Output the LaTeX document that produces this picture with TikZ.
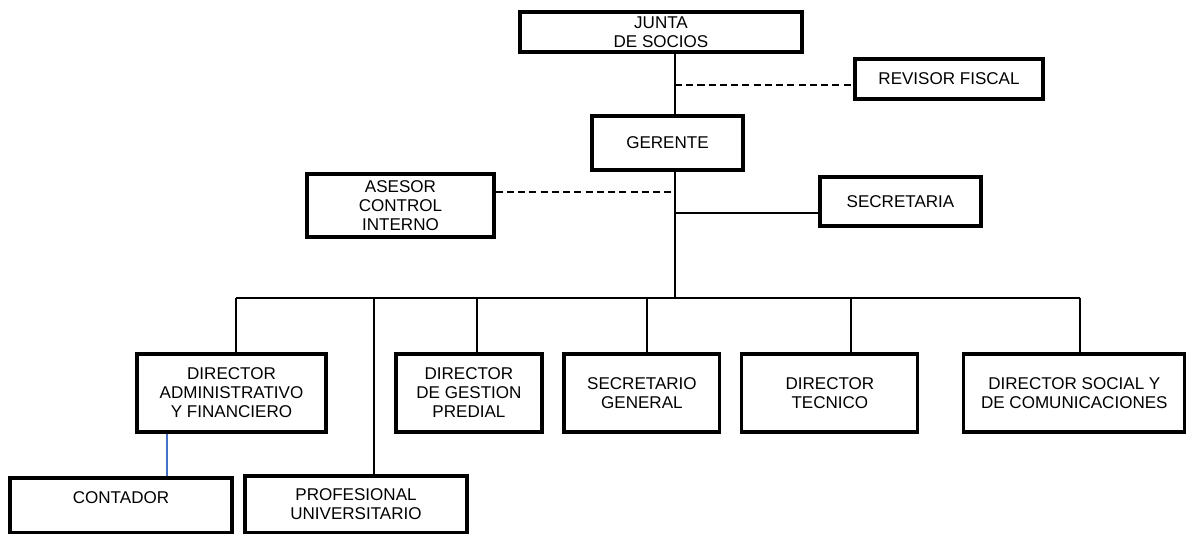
\documentclass[tikz,border=0pt]{standalone}
\usepackage{fontspec}
\setmainfont{Liberation Sans}
\usepackage{tikz}
\usetikzlibrary{positioning}

\definecolor{azul}{RGB}{68,114,196}

\tikzset{
	cargo/.style={rectangle, draw=black, line width=1.8pt, align=center, inner sep=2pt,
		font=\fontsize{9.7pt}{10.8pt}\selectfont},
	linea/.style={line width=0.6pt},
	punteada/.style={line width=0.6pt, dash pattern=on 4pt off 2.4pt}
}

\begin{document}
\begin{tikzpicture}[x=0.02cm, y=-0.02cm]
	\useasboundingbox (0,0) rectangle (1188,534);

	\node[cargo, minimum width=5.64cm, minimum height=0.8cm] (jun) at (661,32) {JUNTA\\DE SOCIOS};
	\node[cargo, minimum width=3.76cm, minimum height=0.8cm] (rev) at (949,79) {REVISOR FISCAL};
	\node[cargo, minimum width=3.02cm, minimum height=1.08cm] (ger) at (667.5,143) {GERENTE};
	\node[cargo, minimum width=3.74cm, minimum height=1.26cm] (ase) at (400.5,205.5) {ASESOR\\CONTROL\\INTERNO};
	\node[cargo, minimum width=3.22cm, minimum height=0.98cm] (sec) at (900.5,201.5) {SECRETARIA};

	\node[cargo, minimum width=3.78cm, minimum height=1.56cm] (adm) at (231.5,393) {DIRECTOR\\ADMINISTRATIVO\\Y FINANCIERO};
	\node[right of=adm, node distance=4.75cm, cargo, minimum width=2.92cm, minimum height=1.56cm] (ges) {DIRECTOR\\DE GESTION\\PREDIAL};
	\node[right of=ges, node distance=3.46cm, cargo, minimum width=3.12cm, minimum height=1.56cm] (sgr) {SECRETARIO\\GENERAL};
	\node[right of=sgr, node distance=3.76cm, cargo, minimum width=3.52cm, minimum height=1.56cm] (tec) {DIRECTOR\\TECNICO};
	\node[right of=tec, node distance=4.89cm, cargo, minimum width=4.42cm, minimum height=1.56cm] (soc) {DIRECTOR SOCIAL Y\\DE COMUNICACIONES};

	\node[cargo, minimum width=4.44cm, minimum height=1.1cm, text depth=0.3cm] (con) at (121,505.5) {CONTADOR};
	\node[cargo, minimum width=4.44cm, minimum height=1.14cm] (pro) at (356,504.5) {PROFESIONAL\\UNIVERSITARIO};

%	puntos de derivacion
	\coordinate (revtap) at (675,85);
	\coordinate (asetap) at (675,192);
	\coordinate (sectap) at (675,213);
	\coordinate (bus) at (675,298);
	\coordinate (busL) at (236,298);
	\coordinate (busR) at (1080,298);
	\coordinate (protap) at (374,298);
	\coordinate (gestap) at (477,298);
	\coordinate (sgrtap) at (647,298);
	\coordinate (tectap) at (851,298);
	\coordinate (contap) at (167,455);

	\path [draw, linea] (jun.south -| bus) -- (ger.north -| bus);
	\path [draw, punteada] (revtap) -- (revtap -| rev.west);
	\path [draw, linea] (ger.south -| bus) -- (bus);
	\path [draw, punteada] (ase.east |- asetap) -- (asetap);
	\path [draw, linea] (sectap) -- (sectap -| sec.west);
	\path [draw, linea] (busL) -- (busR);
	\path [draw, linea] (busL) -- (busL |- adm.north);
	\path [draw, linea] (protap) -- (protap |- pro.north);
	\path [draw, linea] (gestap) -- (gestap |- ges.north);
	\path [draw, linea] (sgrtap) -- (sgrtap |- sgr.north);
	\path [draw, linea] (tectap) -- (tectap |- tec.north);
	\path [draw, linea] (busR) -- (busR |- soc.north);
	\path [draw, linea, azul] (contap |- adm.south) -- (contap |- con.north);
\end{tikzpicture}
\end{document}
